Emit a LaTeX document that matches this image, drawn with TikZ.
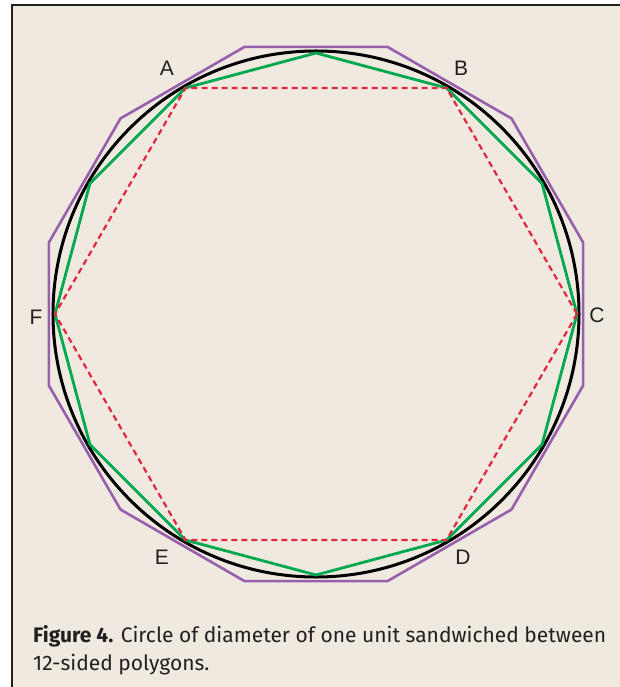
\documentclass[tikz,border=0pt]{standalone}
\usepackage{fontspec}
\setmainfont{Fira Sans}
\newfontfamily\labelfont{Liberation Sans}
\usetikzlibrary{positioning}

\definecolor{paper}{RGB}{240,233,224}
\definecolor{framegray}{RGB}{35,31,32}
\definecolor{outerpurple}{RGB}{152,95,172}
\definecolor{innergreen}{RGB}{0,168,80}
\definecolor{hexred}{RGB}{226,38,62}

\begin{document}
\begin{tikzpicture}[
            x=1pt, y=1pt, % one unit = one pixel of the reference
            outer/.style={draw=outerpurple, line width=2.6pt},
            inner/.style={draw=innergreen, line width=2.8pt},
            hexa/.style={draw=hexred, line width=2.2pt, dash pattern=on 6pt off 4pt},
            ring/.style={draw=black, line width=3pt},
            vlabel/.style={font=\labelfont\fontsize{21}{21}\selectfont, text=framegray},
            caption/.style={font=\fontsize{21}{28}\selectfont, text=framegray, align=left, inner sep=0pt}
        ]
        \useasboundingbox (-316,314) rectangle (303,-373);
        \fill[white] (-316,314) rectangle (303,-373);
        \filldraw[fill=paper, draw=framegray, line width=2pt] (-304,309) rectangle (320,-390);

        % vertices of the three polygons
        \foreach \i in {0,...,11} {
            \coordinate (g\i) at (\i*30:261);      % inscribed 12-gon
            \coordinate (p\i) at (15+\i*30:276.5); % circumscribed 12-gon
        }

        \draw[outer] (p0) \foreach \i in {1,...,11} { -- (p\i) } -- cycle;
        \draw[ring] (0,0) circle (263);
        \draw[inner] (g0) \foreach \i in {1,...,11} { -- (g\i) } -- cycle;
        \draw[hexa] (g0) \foreach \i in {2,4,...,10} { -- (g\i) } -- cycle;

        % hexagon corner labels
        \foreach \n/\x/\y in {A/-149/246, B/145/246, C/281/-1, D/147/-243, E/-154/-243, F/-280/-3}
            \node[vlabel] (lab\n) at (\x,\y) {\n};

        \node[caption, anchor=north west] (cap) at (-283,-311)
            {\textbf{Figure 4.} Circle of diameter of one unit sandwiched between\\12-sided polygons.};
    \end{tikzpicture}
\end{document}
